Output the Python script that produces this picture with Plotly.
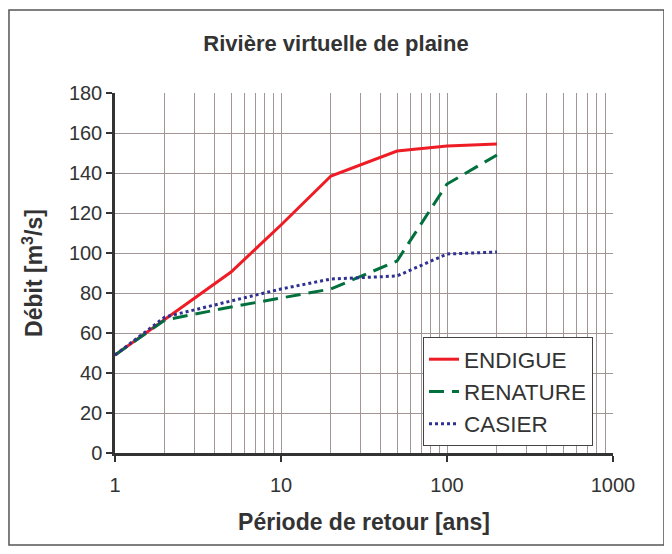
import plotly.graph_objects as go

# Données
periode = [1, 2, 5, 10, 20, 50, 100, 200]
endigue = [49, 67, 90.5, 114, 138.5, 151, 153.5, 154.5]
renature = [49, 66.5, 73, 77.5, 82, 96, 134.5, 149]
casier = [49, 68, 76, 82, 87, 88.5, 99.5, 100.5]

txt = '#333333'
grille = '#a39696'

fig = go.Figure()
fig.add_trace(go.Scatter(x=periode, y=endigue, mode='lines', name='ENDIGUE',
                         line=dict(color='#ee1d25', width=3)))
fig.add_trace(go.Scatter(x=periode, y=renature, mode='lines', name='RENATURE',
                         line=dict(color='#00703c', width=3, dash='15px,8px')))
fig.add_trace(go.Scatter(x=periode, y=casier, mode='lines', name='CASIER',
                         line=dict(color='#2e3192', width=3, dash='3px,3px')))

# cadre extérieur
fig.add_shape(type='rect', xref='paper', yref='paper',
              x0=-0.2129, x1=1.1024, y0=-0.2556, y1=1.2306,
              line=dict(color='#555555', width=1.5), layer='below')

# la page a une marge de 8px : la figure fait 656x538
fig.update_layout(
    width=656, height=538,
    margin=dict(l=107, r=51, t=85, b=93),
    paper_bgcolor='white', plot_bgcolor='white',
    font=dict(family='Liberation Sans, Arial, sans-serif', size=20, color=txt),
    title=dict(text='<b>Rivière virtuelle de plaine</b>', x=0.5, xanchor='center',
               y=0.935, yanchor='middle', font=dict(size=22, color=txt)),
    showlegend=True,
    legend=dict(x=0.6185, y=0.322, xanchor='left', yanchor='top',
                bgcolor='white', bordercolor='#444444', borderwidth=1,
                font=dict(size=22.5, color=txt), tracegroupgap=0),
)

fig.update_xaxes(
    type='log', range=[0, 3], dtick=1,
    showgrid=True, gridcolor=grille, gridwidth=1,
    minor=dict(dtick='D1', showgrid=True, gridcolor=grille, gridwidth=1),
    showline=True, linecolor='#333333', linewidth=2.5,
    ticks='outside', ticklen=6, tickwidth=2, tickcolor='#333333',
    tickfont=dict(size=20, color=txt), ticklabelstandoff=6,
    title=dict(text='<b>Période de retour [ans]</b>', font=dict(size=23, color=txt), standoff=20),
    zeroline=False,
)
fig.update_yaxes(
    range=[0, 180], dtick=20,
    showgrid=True, gridcolor=grille, gridwidth=1,
    showline=True, linecolor='#333333', linewidth=2.5,
    ticks='outside', ticklen=6, tickwidth=2, tickcolor='#333333',
    tickfont=dict(size=20, color=txt),
    title=dict(text='<b>Débit [m<sup>3</sup>/s]</b>', font=dict(size=23, color=txt), standoff=20),
    zeroline=False,
)

fig.write_html('out.html')
